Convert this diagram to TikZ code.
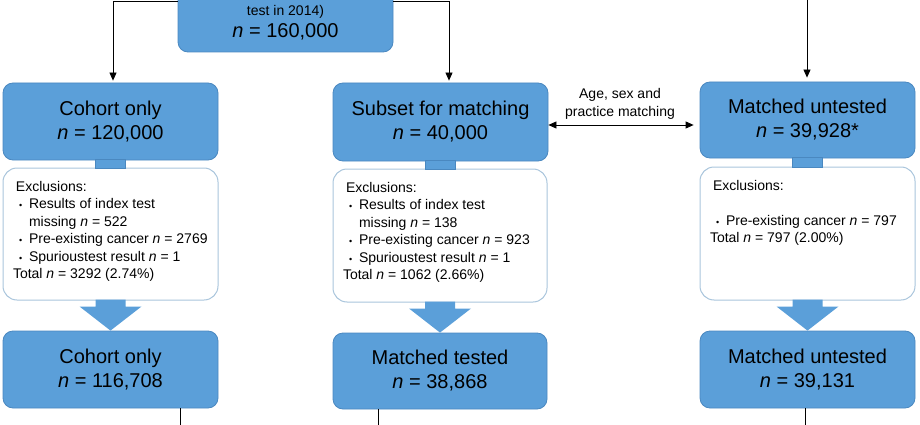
\documentclass[tikz,border=0pt]{standalone}
\usepackage{fontspec}
\setmainfont{Liberation Sans}
\usetikzlibrary{arrows.meta,calc}

\definecolor{boxblue}{HTML}{5B9FD9}
\definecolor{boxedge}{HTML}{4A88C0}
\definecolor{exedge}{HTML}{A9C5DC}

\newcommand{\nn}[1]{\textit{n} = #1}
\newcommand{\bigtxt}{\fontsize{20}{24}\selectfont}
\newcommand{\smalltxt}{\fontsize{14}{17.5}\selectfont}
\newcommand{\bul}{\makebox[10pt][l]{\fontsize{9}{9}\selectfont\textbullet}}
\newcommand{\exhead}{\hspace*{13pt}Exclusions:\par}
\newcommand{\exitem}[1]{\hspace*{16pt}\bul#1\par}
\newcommand{\exmore}[1]{\hspace*{26pt}#1\par}
\newcommand{\extotal}[1]{\hspace*{10pt}Total #1}

\tikzset{
  bluebox/.style={draw=boxedge, fill=boxblue, line width=0.8pt, rounded corners=10pt,
    minimum width=215pt, minimum height=77pt, align=center, font=\bigtxt, inner sep=0pt},
  exbox/.style={draw=exedge, fill=white, line width=1pt, rounded corners=14pt,
    inner sep=0pt, font=\smalltxt},
  arr/.style={-{Triangle[length=8pt,width=7pt]}, line width=0.8pt},
  stub/.style={fill=boxblue, draw=boxedge, line width=0.4pt},
  fatarrow/.style={fill=boxblue},
}

\begin{document}
\begin{tikzpicture}[x=1pt,y=-1pt]
    \useasboundingbox (0,0) rectangle (920,425);
    \path[clip] (0,0) rectangle (920,425);

    % Whole population (top, cut off)
    \node[bluebox, minimum height=102pt] (top) at (285.5,1)
        {\parbox[c][102pt][b]{215pt}{\centering\smalltxt test in 2014)\par
         \fontsize{20}{22}\selectfont\nn{160,000}\par\vspace*{12pt}}};

    % First row
    \node[bluebox] (co1) at (110.5,121.5) {Cohort only\\\nn{120,000}};
    \node[bluebox, minimum height=78pt] (sub) at (440.5,122) {Subset for matching\\\nn{40,000}};
    \node[bluebox, minimum height=76pt] (mu1) at (807.5,120) {Matched untested\\\nn{39,928*}};

    % Exclusions
    \node[exbox] (ex1) at (110.5,234) {\parbox[c][132pt][t]{215pt}{\vspace*{13pt}
        \exhead
        \exitem{Results of index test}
        \exmore{missing \nn{522}}
        \exitem{Pre-existing cancer \nn{2769}}
        \exitem{Spurioustest result \nn{1}}
        \extotal{\nn{3292} (2.74\%)}}};
    \node[exbox] (ex2) at (440,235.5) {\parbox[c][133pt][t]{214pt}{\vspace*{13pt}
        \exhead
        \exitem{Results of index test}
        \exmore{missing \nn{138}}
        \exitem{Pre-existing cancer \nn{923}}
        \exitem{Spurioustest result \nn{1}}
        \extotal{\nn{1062} (2.66\%)}}};
    \node[exbox] (ex3) at (807.5,233.5) {\parbox[c][133pt][t]{215pt}{\vspace*{13pt}
        \exhead
        \mbox{}\par
        \exitem{Pre-existing cancer \nn{797}}
        \extotal{\nn{797} (2.00\%)}}};

    % Second row
    \node[bluebox] (co2) at (110.5,369.5) {Cohort only\\\nn{116,708}};
    \node[bluebox, minimum width=214pt, minimum height=76pt] (mt) at (440,371) {Matched tested\\\nn{38,868}};
    \node[bluebox] (mu2) at (807.5,369.5) {Matched untested\\\nn{39,131}};

    % Stubs and fat arrows
    \foreach \a/\b/\c in {co1/ex1/co2, sub/ex2/mt, mu1/ex3/mu2} {
        \draw[stub] ($(\a.south)+(-15,-1)$) rectangle ($(\b.north)+(15,1)$);
        \fill[fatarrow] ($(\b.south)+(-15,-1)$) -- ($(\b.south)+(-15,6)$)
            -- ($(\b.south)+(-31,6)$) -- (\c.north) -- ($(\b.south)+(31,6)$)
            -- ($(\b.south)+(15,6)$) -- ($(\b.south)+(15,-1)$) -- cycle;
    }

    % Connections
    \coordinate (rtop) at (807,-5);
    \draw[arr, shorten >=2pt] (top.west) -| ($(co1.north)+(2.5,0)$);
    \draw[arr, shorten >=2pt] (top.east) -| ($(sub.north)+(8.5,0)$);
    \draw[arr, shorten >=4pt] (rtop) -- (rtop |- mu1.north);

    % Matching
    \draw[arr, {Triangle[length=8pt,width=7pt]}-{Triangle[length=8pt,width=7pt]}, shorten >=6pt]
        ($(sub.east)+(0,3)$) -- ($(sub.east -| mu1.west)+(0,3)$);
    \node[font=\smalltxt, align=center] (match) at (620,104) {Age, sex and\\practice matching};

    % Lines on to the next stage
    \coordinate (b1) at (180,430);
    \coordinate (b2) at (378,430);
    \coordinate (b3) at (805,430);
    \draw[line width=0.8pt] (co2.south -| b1) -- (b1);
    \draw[line width=0.8pt] (mt.south -| b2) -- (b2);
    \draw[line width=0.8pt] (mu2.south -| b3) -- (b3);
\end{tikzpicture}
\end{document}
